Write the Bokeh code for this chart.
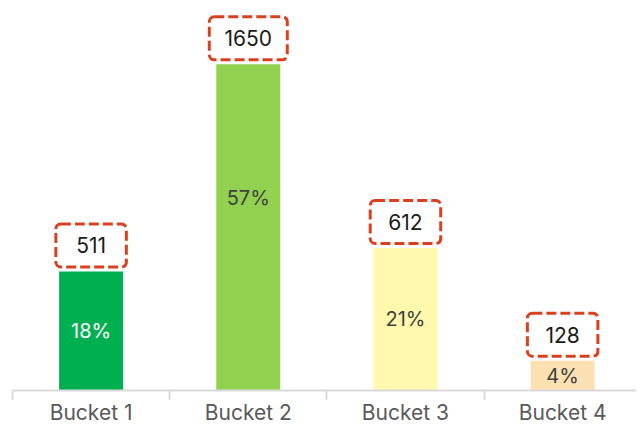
import numpy as np
from bokeh.plotting import figure
from bokeh.models import ColumnDataSource, FixedTicker
from bokeh.core.properties import value
from bokeh.embed import file_html
from bokeh.resources import INLINE

# ---- data ----
categories = ["Bucket 1", "Bucket 2", "Bucket 3", "Bucket 4"]
counts = [511, 1650, 612, 128]
pct_labels = ["18%", "57%", "21%", "4%"]
bar_colors = ["#00b050", "#92d050", "#fff8ad", "#fde0b2"]
pct_colors = ["#ffffff", "#404040", "#404040", "#404040"]
axis_max = 1400          # value axis is capped, the tallest bar is cut there

# ---- layout ----
W, H = 636, 427
frame_h = 390
y_end = 1674
px = y_end / frame_h     # data units per pixel

x = np.arange(1, len(categories) + 1)
vals = np.array(counts, dtype=float)
shown = np.minimum(vals, axis_max)

FONT = "Inter"

p = figure(width=W, height=H, x_range=(0.5, 4.47), y_range=(0, y_end),
           output_backend="svg", toolbar_location=None, y_axis_location=None,
           min_border_left=12, min_border_right=0, min_border_top=0,
           min_border_bottom=H - frame_h)
p.outline_line_color = None
p.xgrid.visible = False
p.ygrid.visible = False

src = ColumnDataSource(dict(
    x=x, top=shown, color=bar_colors, half=vals / 2,
    pct=pct_labels, pct_color=pct_colors,
    box_y=shown + 26 * px, label=[str(c) for c in counts],
    box_w=[48 + 7.5 * len(str(c)) for c in counts],
))

p.vbar(x="x", top="top", bottom=0, width=0.407, color="color", line_color=None, source=src)

p.text(x="x", y="half", text="pct", text_color="pct_color", text_align="center",
       text_baseline="middle", text_font=value(FONT), text_font_size="20px", source=src)

p.rect(x="x", y="box_y", width="box_w", height=43, width_units="screen", height_units="screen",
       fill_color="white", line_color="#d9411e", line_width=3, line_dash="10 4",
       border_radius=5, source=src)

p.text(x="x", y="box_y", text="label", text_color="#1a1a1a", text_align="center",
       text_baseline="middle", text_font=value(FONT), text_font_size="21px", source=src)

ax = p.xaxis[0]
ax.ticker = FixedTicker(ticks=list(x), minor_ticks=list(x - 0.5))
ax.major_label_overrides = {int(i): c for i, c in zip(x, categories)}
ax.major_tick_line_color = None
ax.major_tick_out = 0
ax.major_tick_in = 0
ax.minor_tick_line_color = "#d9d9d9"
ax.minor_tick_line_width = 2
ax.minor_tick_out = 9
ax.minor_tick_in = 0
ax.axis_line_color = "#d9d9d9"
ax.axis_line_width = 2
ax.major_label_text_font = FONT
ax.major_label_text_font_size = "21px"
ax.major_label_text_color = "#595959"
ax.major_label_standoff = 0

open("out.html", "w").write(file_html(p, INLINE))
